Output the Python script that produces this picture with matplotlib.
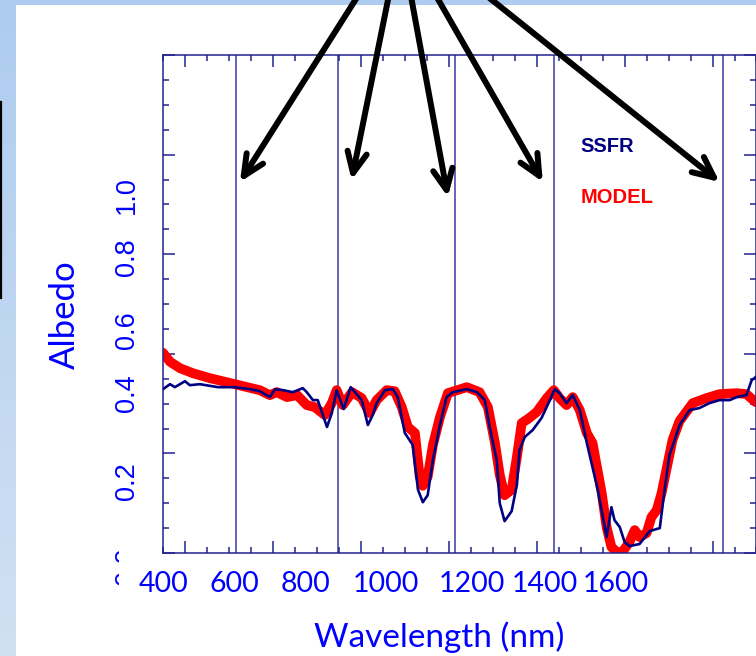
import numpy as np
import matplotlib
matplotlib.use("Agg")
import matplotlib.pyplot as plt
from matplotlib.patches import Rectangle
from matplotlib.lines import Line2D
from matplotlib.ticker import MultipleLocator

# Spectral albedo measured by SSFR
ssfr_nm = [350, 366, 377, 400, 411, 434, 475, 514, 548, 570, 593, 605, 623, 645,
           668, 677, 691, 702, 723, 734, 745, 761, 777, 802, 816, 827, 836, 855,
           873, 884, 900, 918, 930, 941, 952, 964, 980, 995, 1009, 1041, 1064,
           1082, 1093, 1109, 1116, 1127, 1143, 1155, 1161, 1173, 1191, 1211,
           1230, 1241, 1252, 1268, 1282, 1298, 1314, 1339, 1359, 1370, 1377,
           1389, 1400, 1411, 1434, 1457, 1480, 1491, 1502, 1514, 1525, 1548,
           1570, 1593, 1616, 1639, 1655, 1677, 1689, 1698]
ssfr_albedo = [0.329, 0.339, 0.333, 0.345, 0.337, 0.339, 0.333, 0.333, 0.329,
               0.325, 0.313, 0.329, 0.327, 0.323, 0.331, 0.323, 0.307, 0.307,
               0.253, 0.281, 0.327, 0.289, 0.333, 0.307, 0.257, 0.277, 0.301,
               0.327, 0.329, 0.313, 0.241, 0.217, 0.127, 0.102, 0.116, 0.187,
               0.257, 0.313, 0.323, 0.329, 0.323, 0.307, 0.253, 0.187, 0.100,
               0.064, 0.084, 0.137, 0.207, 0.233, 0.247, 0.271, 0.307, 0.329,
               0.321, 0.301, 0.317, 0.287, 0.221, 0.127, 0.032, 0.092, 0.066,
               0.052, 0.022, 0.014, 0.018, 0.044, 0.050, 0.127, 0.197, 0.227,
               0.257, 0.287, 0.291, 0.301, 0.307, 0.307, 0.313, 0.317, 0.347,
               0.353]

# Modelled spectral albedo
model_nm = [350, 366, 389, 418, 457, 495, 532, 570, 593, 609, 632, 655, 677,
            695, 718, 734, 745, 759, 780, 802, 820, 836, 859, 877, 893, 907,
            923, 934, 941, 952, 964, 980, 998, 1041, 1070, 1089, 1105, 1116,
            1127, 1143, 1155, 1166, 1180, 1200, 1223, 1239, 1252, 1268, 1282,
            1298, 1314, 1327, 1348, 1359, 1370, 1382, 1395, 1411, 1423, 1434,
            1450, 1461, 1473, 1484, 1495, 1509, 1525, 1555, 1586, 1616, 1655,
            1677, 1698]
model_albedo = [0.402, 0.384, 0.371, 0.361, 0.351, 0.343, 0.335, 0.327, 0.317,
                0.323, 0.313, 0.317, 0.297, 0.293, 0.277, 0.301, 0.327, 0.297,
                0.323, 0.311, 0.281, 0.307, 0.327, 0.325, 0.293, 0.253, 0.241,
                0.153, 0.135, 0.153, 0.217, 0.273, 0.321, 0.333, 0.323, 0.293,
                0.221, 0.157, 0.116, 0.127, 0.193, 0.261, 0.269, 0.283, 0.311,
                0.327, 0.311, 0.297, 0.313, 0.287, 0.241, 0.221, 0.120, 0.052,
                0.012, 0.002, 0.002, 0.022, 0.046, 0.032, 0.040, 0.072, 0.086,
                0.120, 0.167, 0.227, 0.265, 0.301, 0.311, 0.319, 0.321, 0.319,
                0.303]

band_nm = [516, 748, 1014, 1239, 1623]
arrow_tip_nm = [525, 779, 998, 1214, 1616]
arrow_tip_albedo = [0.745, 0.749, 0.715, 0.745, 0.745]

xtick_labels = ["400", "600", "800", "1000", "1200", "1400", "1600"]
ytick_labels = ["0.0", "0.2", "0.4", "0.6", "0.8", "1.0"]

# ---- layout (figure pixels, origin top-left) ----
W, H = 756, 656
xlabel_px = [164, 234, 306, 386, 472, 545, 616]
ylabel_py = [566, 481, 393, 330, 257, 195]
arrow_tail_px = [(368, -20), (392, -20), (408, -20), (427, -20), (467, -20)]


def fx(x):
    return x / W


def fy(y):
    return 1 - y / H


BLUE = "#0000ff"
NAVY = "#000080"
AXIS = "#22228f"
BAND = "#3a3aa0"

fig = plt.figure(figsize=(W / 100, H / 100), dpi=100)

# slide background gradient
bg = fig.add_axes([0, 0, 1, 1], zorder=-10)
top = np.array([0.68, 0.80, 0.94])
bot = np.array([0.82, 0.88, 0.95])
t = np.linspace(0, 1, 200)[:, None]
grad = (top[None, :] * (1 - t) + bot[None, :] * t)[:, None, :]
bg.imshow(grad, aspect="auto", extent=[0, 1, 0, 1])
bg.axis("off")

fig.add_artist(Rectangle((fx(16), 0), 1 - fx(16), fy(5), transform=fig.transFigure,
                         facecolor="white", edgecolor="none", zorder=-5))
fig.add_artist(Line2D([fx(1.2), fx(1.2)], [fy(102), fy(298)], color="black",
                      lw=1.6, transform=fig.transFigure, zorder=-4))

# rotated y tick labels of the slide
for lab, py in zip(ytick_labels, ylabel_py):
    fig.text(fx(127), fy(py), lab, rotation=90, ha="center", va="center",
             fontsize=19.5, color=BLUE, family="Liberation Sans", zorder=-4)
# text box of the x tick labels hides part of the lowest label
fig.add_artist(Rectangle((fx(119), fy(600)), fx(40), fy(545) - fy(600),
                         transform=fig.transFigure, facecolor="white",
                         edgecolor="none", zorder=-3))

ax = fig.add_axes([fx(163), fy(553), (756.5 - 163) / W, (553 - 55) / H], zorder=0)
ax.set_facecolor("white")
ax.set_xlim(350, 1700)
ax.set_ylim(0, 1.0)

for b in band_nm:
    ax.axvline(b, color=BAND, lw=1.1, zorder=1)

ax.plot(model_nm, model_albedo, color="red", lw=7, solid_capstyle="round",
        solid_joinstyle="round", zorder=2)
ax.plot(ssfr_nm, ssfr_albedo, color=NAVY, lw=1.9, zorder=3)

ax.xaxis.set_major_locator(MultipleLocator(200))
ax.xaxis.set_minor_locator(MultipleLocator(50))
ax.yaxis.set_major_locator(MultipleLocator(0.2))
ax.yaxis.set_minor_locator(MultipleLocator(0.05))
ax.tick_params(which="both", direction="in", top=True, right=True,
               labelbottom=False, labelleft=False, color=AXIS, width=1.1)
ax.tick_params(which="major", length=8.5)
ax.tick_params(which="minor", length=4.5)
for s in ax.spines.values():
    s.set_color(AXIS)
    s.set_linewidth(1.1)

fig.text(fx(607), fy(147), "SSFR", color=NAVY, fontsize=14.5, fontweight="bold",
         family="Liberation Sans", ha="center", va="center")
fig.text(fx(617), fy(198), "MODEL", color="red", fontsize=14.5, fontweight="bold",
         family="Liberation Sans", ha="center", va="center")

for lab, px in zip(xtick_labels, xlabel_px):
    fig.text(fx(px), fy(584), lab, ha="center", va="center", fontsize=20.5,
             color=BLUE, family="Lato")
fig.text(fx(439), fy(637), "Wavelength (nm)", ha="center", va="center",
         fontsize=24, color=BLUE, family="Lato")
fig.text(fx(65), fy(315), "Albedo", rotation=90, ha="center", va="center",
         fontsize=25, color=BLUE, family="Lato")

for (tx, ty), xn, ya in zip(arrow_tail_px, arrow_tip_nm, arrow_tip_albedo):
    ax.annotate("", xy=(xn, ya), xycoords="data",
                xytext=(tx, H - ty), textcoords="figure pixels",
                arrowprops=dict(arrowstyle="->, head_length=1.5, head_width=0.7",
                                color="black", lw=4.3, shrinkA=0, shrinkB=0,
                                mutation_scale=10),
                annotation_clip=False, zorder=6)

fig.savefig("out.png", dpi=100)
